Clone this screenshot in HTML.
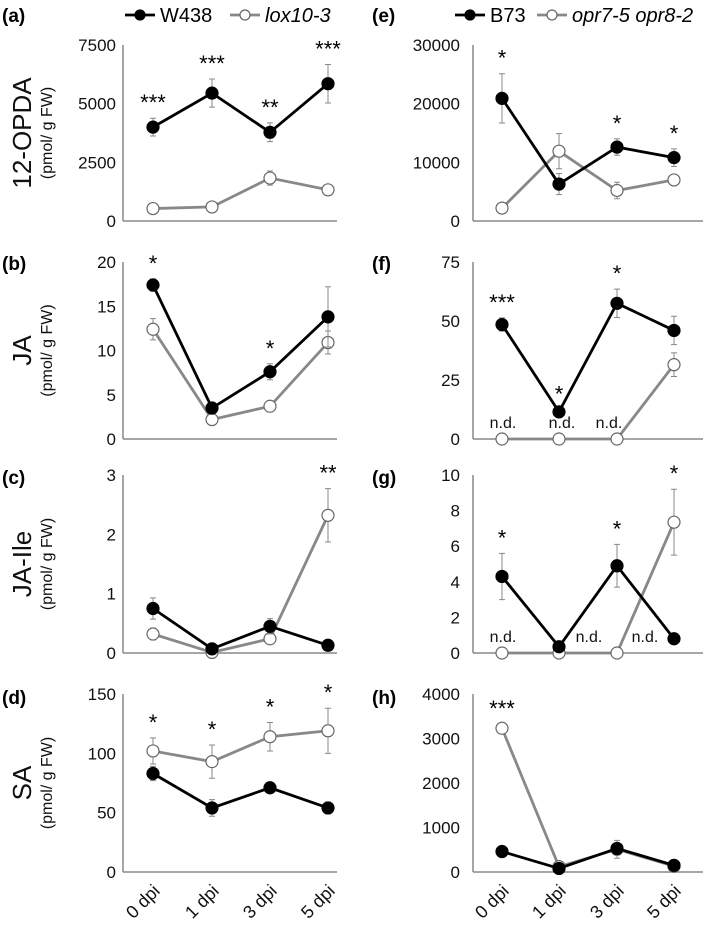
<!DOCTYPE html>
<html><head><meta charset="utf-8"><style>
body{margin:0;background:#fff;font-family:"Liberation Sans",Arial,sans-serif}
svg text{font-family:"Liberation Sans",Arial,sans-serif}
</style></head><body>
<svg id="c" width="709" height="931" viewBox="0 0 709 931" xmlns="http://www.w3.org/2000/svg"></svg>
<script>
const categories=["0 dpi","1 dpi","3 dpi","5 dpi"];
// panel a
const aW=[4000,5450,3780,5850], aWe=[380,600,400,820], aL=[530,600,1830,1330], aLe=[60,60,300,100], aTicks=[0,2500,5000,7500], aStars=["***","***","**","***"];
// panel b
const bW=[17.4,3.5,7.6,13.8], bWe=[0.7,0.4,0.9,3.4], bL=[12.4,2.2,3.7,10.9], bLe=[1.2,0.3,0.6,1.3], bTicks=[0,5,10,15,20], bStars=["*","","*",""];
// panel c
const cW=[0.75,0.07,0.45,0.13], cWe=[0.18,0.03,0.13,0.02], cL=[0.32,0.01,0.24,2.32], cLe=[0.1,0.01,0.05,0.45], cTicks=[0,1,2,3], cStars=["","","","**"];
// panel d
const dW=[83,54,71,54], dWe=[6,7,3,5], dL=[102,93,114,119], dLe=[11,14,12,19], dTicks=[0,50,100,150], dStars=["*","*","*","*"];
// panel e
const eW=[20900,6300,12600,10800], eWe=[4200,1800,1400,1500], eL=[2200,11900,5200,7000], eLe=[300,3000,1400,600], eTicks=[0,10000,20000,30000], eStars=["*","","*","*"];
// panel f
const fW=[48.5,11.5,57.5,46], fWe=[2.8,1,6,6], fL=[0,0,0,31.5], fLe=[0,0,0,5], fTicks=[0,25,50,75], fStars=["***","*","*",""];
// panel g
const gW=[4.3,0.35,4.9,0.8], gWe=[1.3,0.1,1.2,0.1], gL=[0,0,0,7.35], gLe=[0,0,0,1.85], gTicks=[0,2,4,6,8,10], gStars=["*","","*","*"];
// panel h
const hW=[460,80,530,150], hWe=[40,20,60,20], hL=[3230,120,510,130], hLe=[100,30,200,30], hTicks=[0,1000,2000,3000,4000], hStars=["***","","",""];

const NS="http://www.w3.org/2000/svg", svg=document.getElementById('c');
function mk(tag,attrs,parent,text){const e=document.createElementNS(NS,tag);for(const k in attrs)e.setAttribute(k,attrs[k]);if(text!==undefined)e.textContent=text;(parent||svg).appendChild(e);return e;}

function panel(o){
  const g=mk('g',{});
  
  
  const max=o.ticks[o.ticks.length-1];
  const y=v=>o.y0-(v/max)*(o.y0-o.yTop);
  const x=i=>o.xs[i];
  const ax=mk('line',{x1:o.ax,y1:o.yTop,x2:o.ax,y2:o.y0,stroke:'#888','stroke-width':1.5},g);
  
  
  const bx=mk('line',{x1:o.ax,y1:o.y0,x2:o.ax+o.w,y2:o.y0,stroke:'#888','stroke-width':1.5},g);
  
  
  o.ticks.forEach(t=>{const tl=mk('text',{x:o.ax-o.tg,y:y(t)+6,'text-anchor':'end','font-size':17,fill:'#111'},g,t);
    
    });
  const lbl=mk('text',{x:o.lx,y:o.ly,'font-size':19,'font-weight':'bold',fill:'#000'},g,'('+o.id+')');
  
  
  if(o.title){
    const cy=(o.y0+o.yTop)/2;
    const t1=mk('text',{transform:`translate(31,${cy}) rotate(-90)`,'text-anchor':'middle','font-size':26,fill:'#111'},g,o.title);
    
    
    const t2=mk('text',{transform:`translate(52,${cy}) rotate(-90)`,'text-anchor':'middle','font-size':16,fill:'#111'},g,'(pmol/  g FW)');
    
    
  }
  [[o.L,o.Le,'#888','#fff','mutant'],[o.W,o.We,'#000','#000','wildtype']].forEach(([v,e,col,fill,nm])=>{
    v.forEach((d,i)=>{if(e[i]>0){const eb=mk('path',{d:`M${x(i)},${y(d-e[i])}V${y(d+e[i])}M${x(i)-3},${y(d-e[i])}h6M${x(i)-3},${y(d+e[i])}h6`,stroke:'#888','stroke-width':1,fill:'none'},g);
      
      }});
    const pl=mk('polyline',{points:v.map((d,i)=>x(i)+','+y(d)).join(' '),fill:'none',stroke:col,'stroke-width':2.8},g);
    
    
    v.forEach((d,i)=>{const c=mk('circle',{cx:x(i),cy:y(d),r:6,fill:fill,stroke:nm==='mutant'?'#666':'#000','stroke-width':1.2},g);
      
      });
  });
  o.stars.forEach((s,i)=>{if(!s)return;const top=Math.max(o.W[i]+o.We[i],o.L[i]+o.Le[i]);
    const st=mk('text',{x:x(i),y:y(top)-8,'text-anchor':'middle','font-size':22,fill:'#000'},g,s);
    
    });
  (o.nd||[]).forEach(px=>{const t=mk('text',{x:px,y:o.y0-11,'text-anchor':'middle','font-size':16,fill:'#111'},g,'n.d.');
    
    });
  if(o.xlabels){categories.forEach((c,i)=>{const t=mk('text',{transform:`translate(${x(i)+8},${o.y0+20}) rotate(-45)`,'text-anchor':'end','font-size':18,fill:'#111'},g,c);
    
    });}
}
const LX=[153,212,270,328], RX=[502,559,617,674];
const rows=[[221,45],[439,262],[653,475],[872,694]];
const LY=[22,270,484,704];
function lp(o){o.ax=123;o.xs=LX;o.lx=2;o.w=214;o.tg=7;panel(o);}
lp({id:'a',ly:LY[0],title:'12-OPDA',y0:rows[0][0],yTop:rows[0][1],ticks:aTicks,W:aW,We:aWe,L:aL,Le:aLe,stars:aStars});
lp({id:'b',ly:LY[1],title:'JA',y0:rows[1][0],yTop:rows[1][1],ticks:bTicks,W:bW,We:bWe,L:bL,Le:bLe,stars:bStars});
lp({id:'c',ly:LY[2],title:'JA-Ile',y0:rows[2][0],yTop:rows[2][1],ticks:cTicks,W:cW,We:cWe,L:cL,Le:cLe,stars:cStars});
lp({id:'d',ly:LY[3],title:'SA',y0:rows[3][0],yTop:rows[3][1],ticks:dTicks,W:dW,We:dWe,L:dL,Le:dLe,stars:dStars,xlabels:true});
function rp(o){o.ax=473;o.xs=RX;o.lx=372;o.w=230;o.tg=13;panel(o);}
rp({id:'e',ly:LY[0],y0:rows[0][0],yTop:rows[0][1],ticks:eTicks,W:eW,We:eWe,L:eL,Le:eLe,stars:eStars});
rp({id:'f',ly:LY[1],y0:rows[1][0],yTop:rows[1][1],ticks:fTicks,W:fW,We:fWe,L:fL,Le:fLe,stars:fStars,nd:[503,562,609]});
rp({id:'g',ly:LY[2],y0:rows[2][0],yTop:rows[2][1],ticks:gTicks,W:gW,We:gWe,L:gL,Le:gLe,stars:gStars,nd:[503,589,645]});
rp({id:'h',ly:LY[3],y0:rows[3][0],yTop:rows[3][1],ticks:hTicks,W:hW,We:hWe,L:hL,Le:hLe,stars:hStars,xlabels:true});
// legends
function legend(x0,gap,items){items.forEach(([lab,col,fill,ital],k)=>{
  const g=mk('g',{});
  
  
  const lx=x0+(k?gap:0);
  mk('line',{x1:lx,y1:15,x2:lx+30,y2:15,stroke:col,'stroke-width':2.8},g);
  mk('circle',{cx:lx+15,cy:15,r:5,fill:fill,stroke:k?'#666':'#000','stroke-width':1.2},g);
  mk('text',{x:lx+35,y:22,'font-size':20,'font-style':ital?'italic':'normal',fill:'#000'},g,lab);
});}
legend(125,105,[['W438','#000','#000',false],['lox10-3','#888','#fff',true]]);
legend(455,82,[['B73','#000','#000',false],['opr7-5 opr8-2','#888','#fff',true]]);
</script>
</body></html>
